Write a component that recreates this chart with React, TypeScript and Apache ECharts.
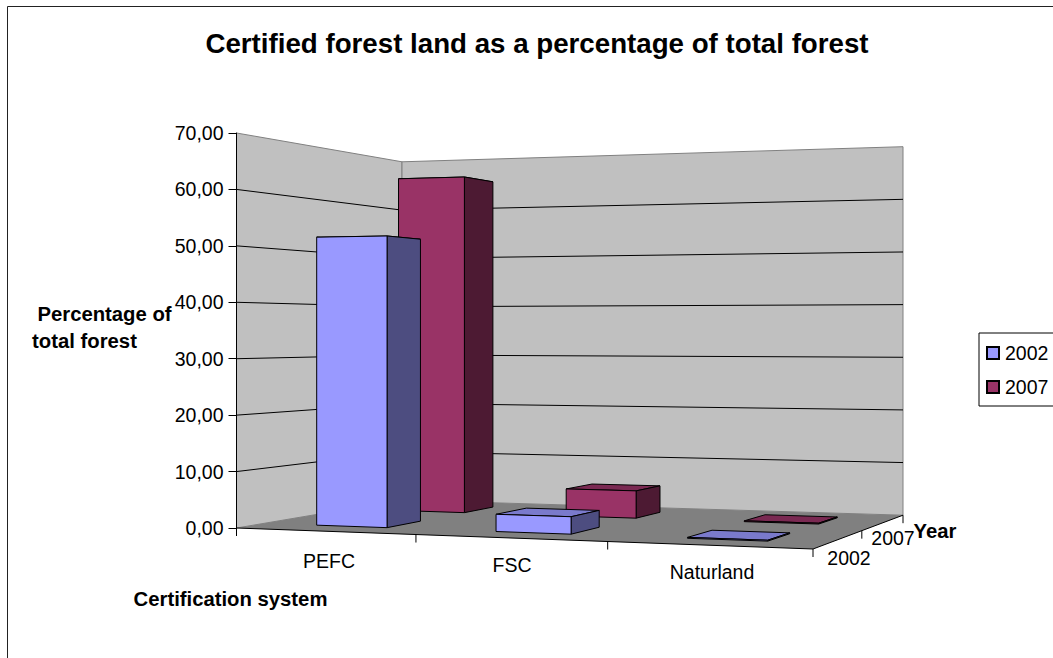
import React, { useEffect, useRef } from "react";
import * as echarts from "echarts";

const categories = ["PEFC", "FSC", "Naturland"];
const years = ["2002", "2007"];
const values2002 = [51.8, 3.0, 0.15];
const values2007 = [64.6, 5.1, 0.15];
const yTicks = [0, 10, 20, 30, 40, 50, 60, 70];

const FONT = "Liberation Sans";
const C2002 = { front: "#9999FF", side: "#4D4D80", top: "#7A7ACC" };
const C2007 = { front: "#993366", side: "#4D1A33", top: "#7A2952" };

// Floor plane of the 3D box, as seen in the picture (unit-square homography).
const A = [236.5, 528], B = [813, 549], C = [903, 515.2], D = [402, 500];
const den = (B[0] - C[0]) * (D[1] - C[1]) - (D[0] - C[0]) * (B[1] - C[1]);
const sx = A[0] - B[0] + C[0] - D[0];
const sy = A[1] - B[1] + C[1] - D[1];
const g = (sx * (D[1] - C[1]) - (D[0] - C[0]) * sy) / den;
const h = ((B[0] - C[0]) * sy - sx * (B[1] - C[1])) / den;
const a = B[0] - A[0] + g * B[0], b = D[0] - A[0] + h * D[0];
const d = B[1] - A[1] + g * B[1], e = D[1] - A[1] + h * D[1];

// u: 0..3 along categories, w: 0..2 along years, pxUp: scaled value height at the front-left corner
function project(u: number, w: number, pxUp: number) {
  const s = u / 3, t = w / 2;
  const W = 1 + g * s + h * t;
  return [(a * s + b * t + A[0]) / W, (d * s + e * t + A[1] - pxUp) / W];
}

const BAR_LEFT_U = 0.195;
const BAR_RIGHT_U = 0.205;
const BAR_HALF_W = 0.206;

function wallsRender(_p: any, api: any) {
  const unit = api.size([0, 1])[1];
  const P = (u: number, w: number, v: number) => project(u, w, v * unit);
  const top = yTicks[yTicks.length - 1];
  const children: any[] = [];
  children.push({ type: "polygon", shape: { points: [P(0, 0, 0), P(0, 2, 0), P(0, 2, top), P(0, 0, top)] }, style: { fill: "#C0C0C0", stroke: "#808080", lineWidth: 1 } });
  children.push({ type: "polygon", shape: { points: [P(0, 2, 0), P(3, 2, 0), P(3, 2, top), P(0, 2, top)] }, style: { fill: "#C0C0C0", stroke: "#808080", lineWidth: 1 } });
  children.push({ type: "polygon", shape: { points: [P(0, 0, 0), P(3, 0, 0), P(3, 2, 0), P(0, 2, 0)] }, style: { fill: "#808080" } });
  yTicks.slice(1, -1).forEach((v) => {
    children.push({ type: "polyline", shape: { points: [P(0, 0, v), P(0, 2, v), P(3, 2, v)] }, style: { fill: "none", stroke: "#000", lineWidth: 1 } });
  });
  const line = (p: number[], q: number[]) => ({ type: "line", shape: { x1: p[0], y1: p[1], x2: q[0], y2: q[1] }, style: { stroke: "#000", lineWidth: 1 } });
  children.push(line(P(0, 0, 0), P(3, 0, 0)));
  children.push(line(P(3, 0, 0), P(3, 2, 0)));
  [0, 1, 2, 3].forEach((u) => {
    const p = P(u, 0, 0);
    children.push(line(p, [p[0], p[1] + 8]));
  });
  [1, 2].forEach((w) => {
    const p = P(3, w, 0);
    children.push(line(p, [p[0], p[1] + 8]));
  });
  return { type: "group", children };
}

function barRender(row: number, col: { front: string; side: string; top: string }) {
  return (_p: any, api: any) => {
    const unit = api.size([0, 1])[1];
    const cat = api.value(0);
    const val = api.value(1);
    const u0 = cat + 0.5 - BAR_LEFT_U, u1 = cat + 0.5 + BAR_RIGHT_U;
    const w0 = row + 0.5 - BAR_HALF_W, w1 = row + 0.5 + BAR_HALF_W;
    const P = (u: number, w: number, v: number) => project(u, w, v * unit);
    const st = (fill: string) => ({ fill, stroke: "#000", lineWidth: 1 });
    return {
      type: "group",
      children: [
        { type: "polygon", shape: { points: [P(u0, w0, val), P(u1, w0, val), P(u1, w1, val), P(u0, w1, val)] }, style: st(col.top) },
        { type: "polygon", shape: { points: [P(u1, w0, 0), P(u1, w1, 0), P(u1, w1, val), P(u1, w0, val)] }, style: st(col.side) },
        { type: "polygon", shape: { points: [P(u0, w0, 0), P(u1, w0, 0), P(u1, w0, val), P(u0, w0, val)] }, style: st(col.front) },
      ],
    };
  };
}

const plain = { fontFamily: FONT, fontSize: 19.5, fill: "#000" };
const bold = { fontFamily: FONT, fontSize: 20.3, fontWeight: "bold", fill: "#000" };
const catLabelPos = [[329, 561], [512, 565], [712, 572]];
const depthLabelPos = [[849, 558], [893, 538]];

export default function App() {
  const ref = useRef<HTMLDivElement>(null);
  useEffect(() => {
    const chart = echarts.init(ref.current!, undefined, { renderer: "svg" });
    chart.setOption({
      animation: false,
      backgroundColor: "#fff",
      title: {
        text: "Certified forest land as a percentage of total forest",
        left: 532,
        top: 24,
        textAlign: "center",
        textStyle: { fontFamily: FONT, fontSize: 27.7, fontWeight: "bold", color: "#000" },
      },
      legend: {
        data: years,
        orient: "vertical",
        left: 979,
        top: 333,
        padding: [10, 40, 9, 7],
        itemWidth: 12,
        itemHeight: 12,
        itemGap: 14,
        icon: "rect",
        backgroundColor: "#fff",
        borderColor: "#000",
        borderWidth: 1,
        borderRadius: 0,
        selectedMode: false,
        textStyle: { fontFamily: FONT, fontSize: 19.5, color: "#000", padding: [0, 0, 0, 1] },
      },
      grid: { left: 236.5, top: 133, width: 576.5, height: 395 },
      xAxis: { type: "value", min: 0, max: 3, show: false },
      yAxis: {
        type: "value",
        min: 0,
        max: 70,
        interval: 10,
        z: 10,
        splitLine: { show: false },
        axisLine: { show: true, lineStyle: { color: "#000", width: 1 } },
        axisTick: { show: true, length: 8, lineStyle: { color: "#000", width: 1 } },
        axisLabel: {
          margin: 13,
          fontFamily: FONT,
          fontSize: 19.5,
          color: "#000",
          formatter: (v: number) => v.toFixed(2).replace(".", ","),
        },
      },
      series: [
        { name: "box", type: "custom", data: [[0, 0]], renderItem: wallsRender, silent: true, z: 1 },
        {
          name: "2007",
          type: "custom",
          z: 2,
          itemStyle: { color: C2007.front, borderColor: "#000", borderWidth: 1 },
          renderItem: barRender(1, C2007),
          data: values2007.map((v, i) => [i, v]),
        },
        {
          name: "2002",
          type: "custom",
          z: 3,
          itemStyle: { color: C2002.front, borderColor: "#000", borderWidth: 1 },
          renderItem: barRender(0, C2002),
          data: values2002.map((v, i) => [i, v]),
        },
      ],
      graphic: [
        { type: "rect", z: -1, silent: true, shape: { x: 7.5, y: 6.5, width: 1200, height: 800 }, style: { fill: "none", stroke: "#222", lineWidth: 1 } },
        ...categories.map((c, i) => ({ type: "text", x: catLabelPos[i][0], y: catLabelPos[i][1], style: { ...plain, text: c, textAlign: "center", textVerticalAlign: "middle" } })),
        ...years.map((c, i) => ({ type: "text", x: depthLabelPos[i][0], y: depthLabelPos[i][1], style: { ...plain, text: c, textAlign: "center", textVerticalAlign: "middle" } })),
        { type: "text", x: 104.5, y: 314, style: { ...bold, text: "Percentage of", textAlign: "center", textVerticalAlign: "middle" } },
        { type: "text", x: 84.5, y: 341, style: { ...bold, text: "total forest", textAlign: "center", textVerticalAlign: "middle" } },
        { type: "text", x: 230.5, y: 599, style: { ...bold, text: "Certification system", textAlign: "center", textVerticalAlign: "middle" } },
        { type: "text", x: 935, y: 531, style: { ...bold, text: "Year", textAlign: "center", textVerticalAlign: "middle" } },
      ],
    });
    return () => chart.dispose();
  }, []);
  return <div ref={ref} style={{ position: "absolute", left: 0, top: 0, width: 1053, height: 658, overflow: "hidden" }} />;
}
